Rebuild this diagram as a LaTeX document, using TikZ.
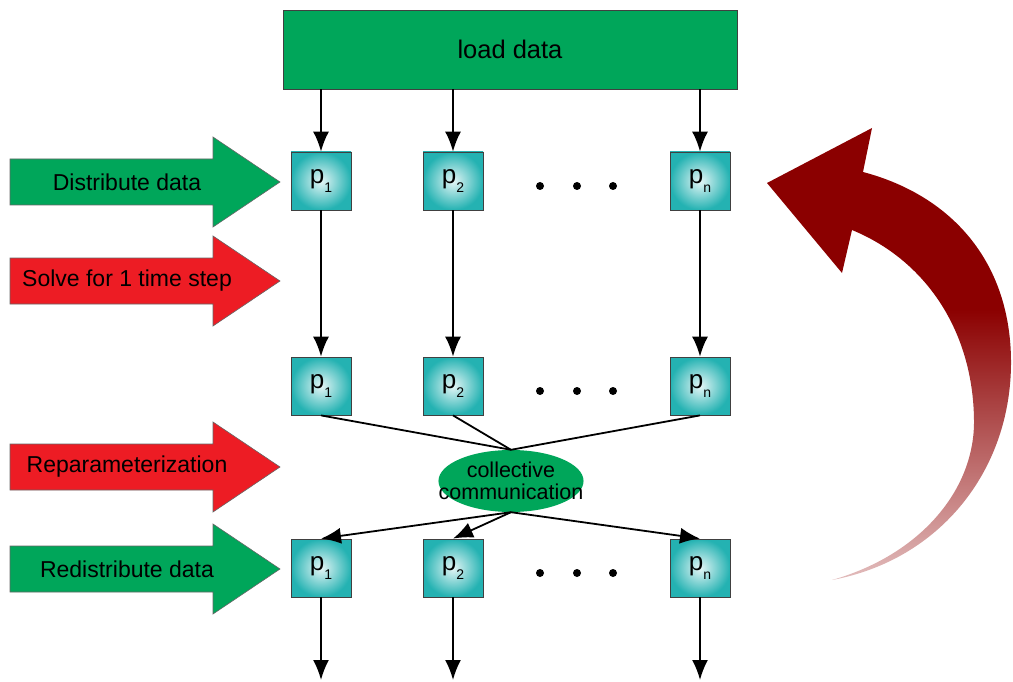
\documentclass[tikz,border=0pt]{standalone}
\usepackage{fontspec}
\setmainfont{Liberation Sans}
\usetikzlibrary{positioning,arrows.meta,shapes.geometric}
\definecolor{loadgreen}{RGB}{0,166,90}
\definecolor{stepred}{RGB}{237,28,36}
\definecolor{boxteal}{RGB}{36,178,178}
\definecolor{loopred}{RGB}{139,0,0}
\definecolor{looppink}{RGB}{226,188,188}
\pgfdeclareverticalshading{loopfade}{100bp}{color(0bp)=(looppink); color(25bp)=(looppink); color(55bp)=(loopred); color(100bp)=(loopred)}
\newcommand{\procsub}[1]{p\raisebox{-9pt}{\fontsize{14}{14}\selectfont #1}}

\begin{document}
\begin{tikzpicture}[x=1pt,y=-1pt]
 \tikzset{arrow/.style={line width=1.8pt,-{Latex[length=20pt,width=16pt]}},
   proc/.style={draw=black!75,line width=0.8pt,minimum width=60pt,minimum height=58pt,inner color=boxteal!12,outer color=boxteal,font=\fontsize{26}{28}\selectfont}}
 \useasboundingbox (0,0) rectangle (1013,682);

 \node[draw=black!75,fill=loadgreen,minimum width=454pt,minimum height=79pt,font=\fontsize{25.5}{30}\selectfont] (load) at (510,49.5) {load data};

 % processor rows
 \foreach \row/\yy in {1/181,2/386,3/568} {
   \node[proc] (p\row1) at (321,\yy) {\procsub{1}};
   \node[proc] (p\row2) at (453,\yy) {\procsub{2}};
   \node[proc] (p\row n) at (700,\yy) {\procsub{n}};
   \foreach \x in {540,577,613} \fill (\x,\yy+5) circle (4);
 }

 \node[ellipse,fill=loadgreen,minimum width=145pt,minimum height=62pt,inner xsep=-21pt,inner ysep=0pt,align=center,font=\fontsize{21.5}{22}\selectfont] (comm) at (511,481) {collective\\communication};

 % side labels
 \foreach \nm/\yy/\col/\txt in {distr/182/loadgreen/Distribute data,solve/281/stepred/Solve for 1 time step,repar/467/stepred/Reparameterization,redistr/569/loadgreen/Redistribute data} {
   \draw[draw=black!60,line width=0.6pt,fill=\col] (10,\yy-23) -- (213,\yy-23) -- (213,\yy-45) -- (280,\yy) -- (213,\yy+45) -- (213,\yy+23) -- (10,\yy+23) -- cycle;
   \node[font=\fontsize{23}{25}\selectfont] (\nm) at (127,\yy) {\txt};
 }

 \foreach \k in {1,2,n} {
   \coordinate (out\k) at (p3\k |- 0,680);
   \draw[arrow] (load.south -| p1\k) -- (p1\k);
   \draw[arrow] (p1\k) -- (p2\k);
   \draw[line width=1.8pt] (p2\k.south) -- (comm.north);
   \draw[arrow] (comm.south) -- (p3\k.north);
   \draw[arrow] (p3\k) -- (out\k);
 }

 % loop arrow
 \shade[shading=loopfade] (767,183) -- (872,128) -- (863,172) .. controls (950,195) and (1010,260) .. (1011,360) .. controls (1012,470) and (940,560) .. (832,580) .. controls (920,555) and (975,490) .. (974,420) .. controls (973,330) and (925,260) .. (852,230) -- (842,273) -- cycle;
\end{tikzpicture}
\end{document}
